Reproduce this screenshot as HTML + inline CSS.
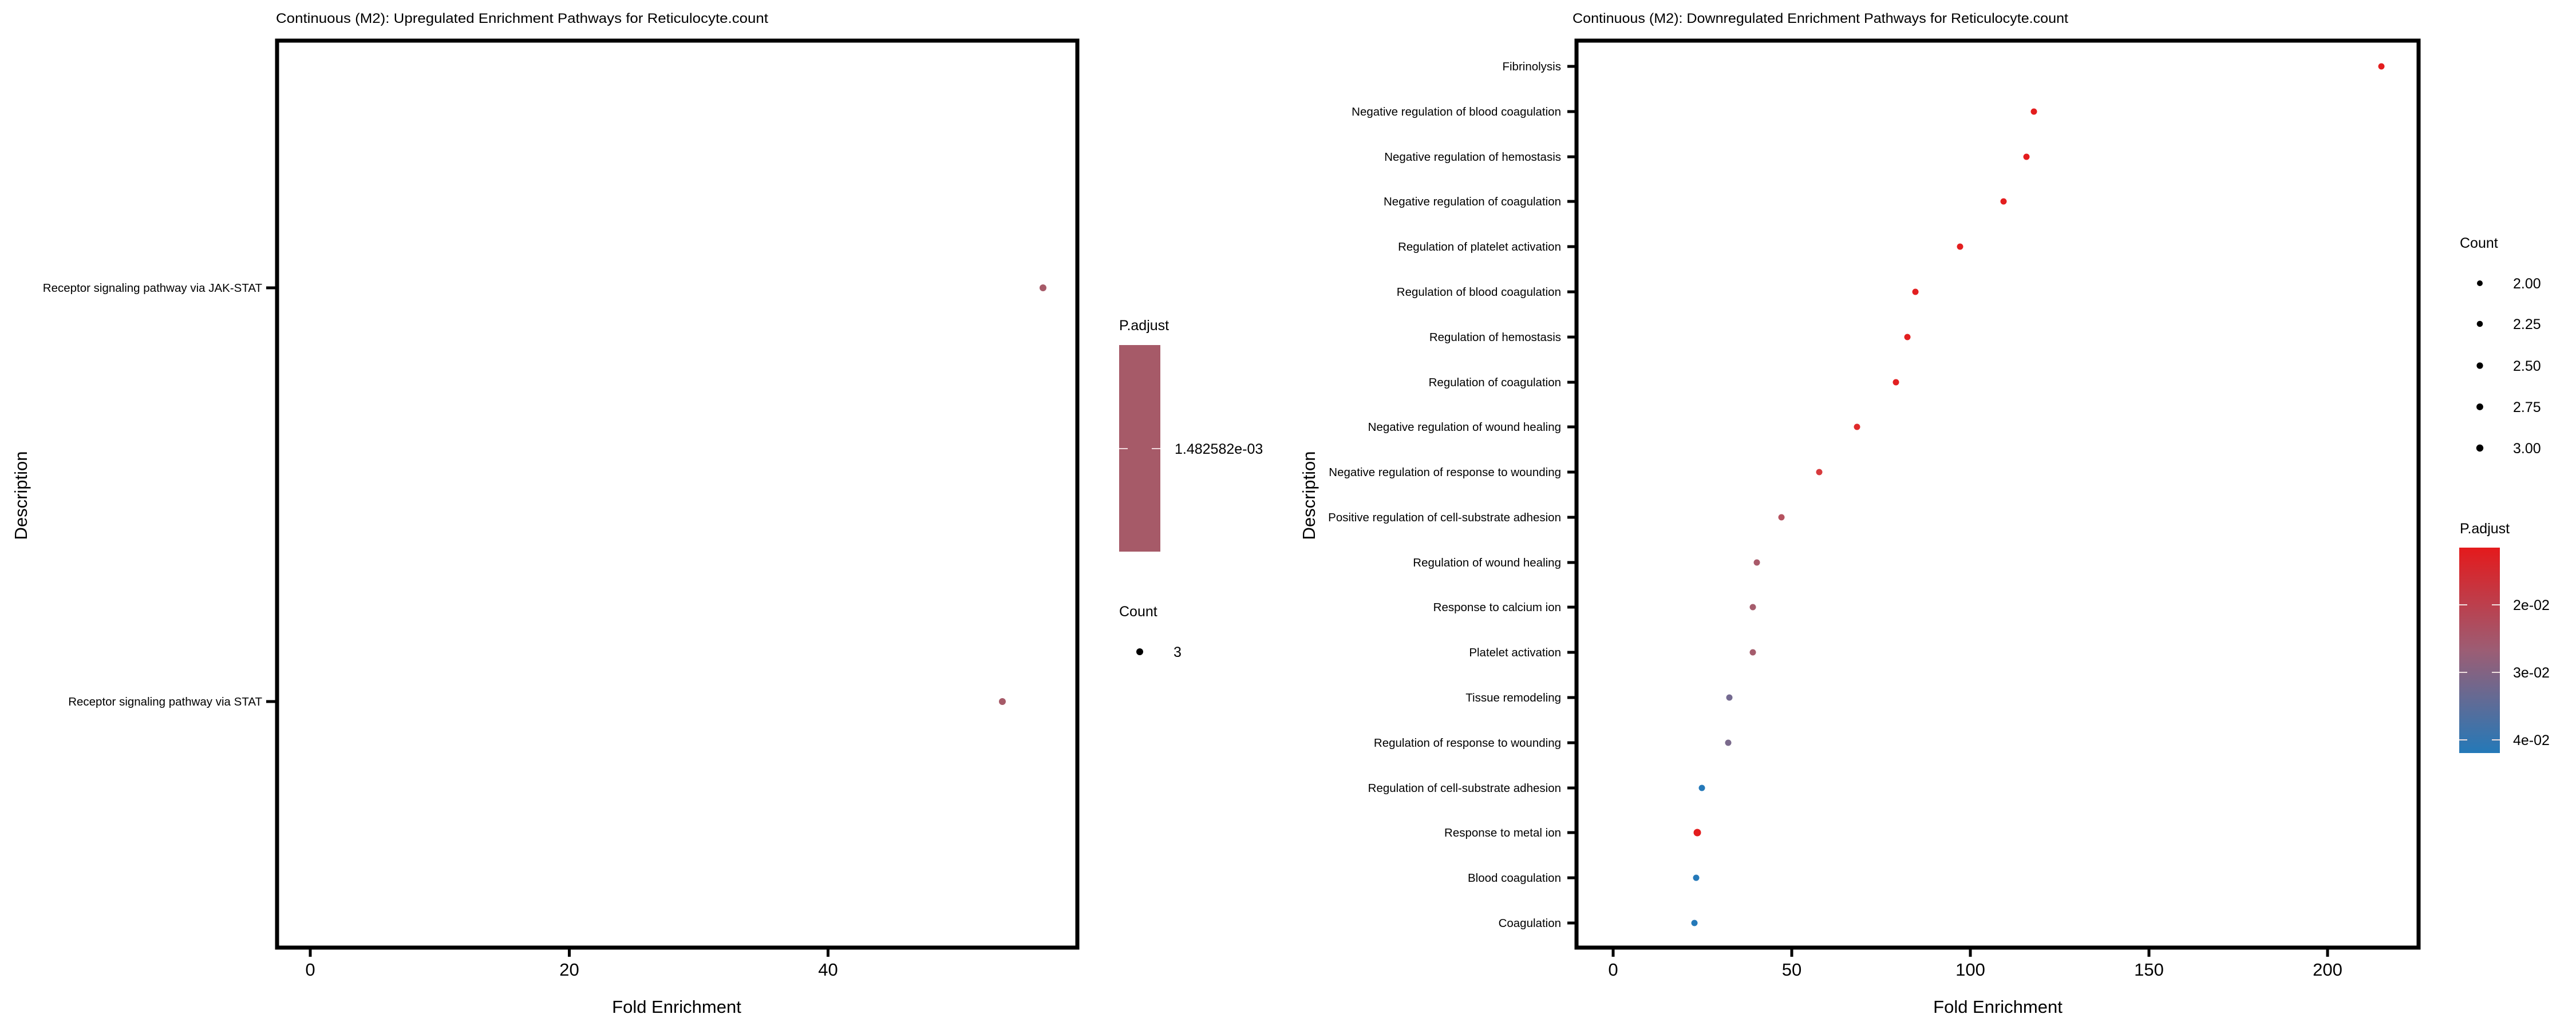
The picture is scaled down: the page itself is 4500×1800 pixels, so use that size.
<!DOCTYPE html>
<html><head><meta charset="utf-8"><style>
html,body{margin:0;padding:0;background:#fff;}
svg{display:block;}
text{font-family:"Liberation Sans",sans-serif;fill:#000;}
.yl{font-size:20.5px;text-anchor:end;}
.xl{font-size:31px;text-anchor:middle;}
.lg{font-size:25px;}
</style></head><body>
<svg width="4500" height="1800" viewBox="0 0 4500 1800" xmlns="http://www.w3.org/2000/svg">
<defs>
<linearGradient id="g" x1="0" y1="0" x2="0" y2="1">
<stop offset="0" stop-color="#e41a1c"/>
<stop offset="0.5" stop-color="#9c5d74"/>
<stop offset="1" stop-color="#2479b8"/>
</linearGradient>
</defs>
<!-- LEFT PANEL -->
<text x="482" y="40" font-size="24" textLength="860" lengthAdjust="spacingAndGlyphs">Continuous (M2): Upregulated Enrichment Pathways for Reticulocyte.count</text>
<rect x="484" y="71" width="1398" height="1585" fill="none" stroke="#000" stroke-width="7"/>
<g stroke="#000" stroke-width="5">
<line x1="465" y1="503" x2="482" y2="503"/><line x1="465" y1="1226" x2="482" y2="1226"/>
<line x1="542" y1="1659" x2="542" y2="1672"/><line x1="994.5" y1="1659" x2="994.5" y2="1672"/><line x1="1446.5" y1="1659" x2="1446.5" y2="1672"/>
</g>
<text class="yl" x="458" y="510">Receptor signaling pathway via JAK-STAT</text>
<text class="yl" x="458" y="1233">Receptor signaling pathway via STAT</text>
<text class="xl" x="542" y="1705">0</text><text class="xl" x="994.5" y="1705">20</text><text class="xl" x="1446.5" y="1705">40</text>
<text class="xl" x="1182" y="1770">Fold Enrichment</text>
<text class="xl" transform="translate(47,866) rotate(-90)">Description</text>
<circle cx="1822" cy="503" r="6" fill="#a65a68"/>
<circle cx="1751" cy="1226" r="6" fill="#a65a68"/>
<text class="lg" x="1955" y="577">P.adjust</text>
<rect x="1955" y="603" width="72" height="361" fill="#a65a68"/>
<line x1="1955" y1="784" x2="1970" y2="784" stroke="#f0d8dc" stroke-width="2"/><line x1="2012" y1="784" x2="2027" y2="784" stroke="#f0d8dc" stroke-width="2"/>
<text class="lg" x="2052" y="793">1.482582e-03</text>
<text class="lg" x="1955" y="1077">Count</text>
<circle cx="1991" cy="1139" r="6" fill="#000"/>
<text class="lg" x="2050" y="1148">3</text>

<!-- RIGHT PANEL -->
<text x="2747" y="40" font-size="24" textLength="866" lengthAdjust="spacingAndGlyphs">Continuous (M2): Downregulated Enrichment Pathways for Reticulocyte.count</text>
<rect x="2754" y="71" width="1471" height="1585" fill="none" stroke="#000" stroke-width="7"/>
<g stroke="#000" stroke-width="5">
<line x1="2818" y1="1659" x2="2818" y2="1672"/><line x1="3130" y1="1659" x2="3130" y2="1672"/><line x1="3442" y1="1659" x2="3442" y2="1672"/><line x1="3754" y1="1659" x2="3754" y2="1672"/><line x1="4066" y1="1659" x2="4066" y2="1672"/>
</g>
<text class="xl" x="2818" y="1705">0</text><text class="xl" x="3130" y="1705">50</text><text class="xl" x="3442" y="1705">100</text><text class="xl" x="3754" y="1705">150</text><text class="xl" x="4066" y="1705">200</text>
<text class="xl" x="3490" y="1770">Fold Enrichment</text>
<text class="xl" transform="translate(2297,866) rotate(-90)">Description</text>
<text class="lg" x="4297" y="433">Count</text>
<g fill="#000"><circle cx="4332" cy="495" r="5"/><circle cx="4332" cy="566" r="5.3"/><circle cx="4332" cy="639" r="5.6"/><circle cx="4332" cy="711" r="5.9"/><circle cx="4332" cy="783" r="6.2"/></g>
<text class="lg" x="4390" y="504">2.00</text><text class="lg" x="4390" y="575">2.25</text><text class="lg" x="4390" y="648">2.50</text><text class="lg" x="4390" y="720">2.75</text><text class="lg" x="4390" y="792">3.00</text>
<text class="lg" x="4297" y="932">P.adjust</text>
<rect x="4296" y="957" width="71" height="359" fill="url(#g)"/>
<g stroke="#f0e0e0" stroke-width="2">
<line x1="4296" y1="1057" x2="4310" y2="1057"/><line x1="4353" y1="1057" x2="4367" y2="1057"/>
<line x1="4296" y1="1175" x2="4310" y2="1175"/><line x1="4353" y1="1175" x2="4367" y2="1175"/>
<line x1="4296" y1="1293" x2="4310" y2="1293"/><line x1="4353" y1="1293" x2="4367" y2="1293"/>
</g>
<text class="lg" x="4390" y="1066">2e-02</text><text class="lg" x="4390" y="1184">3e-02</text><text class="lg" x="4390" y="1302">4e-02</text>

<g stroke="#000" stroke-width="5">
<line x1="2738" y1="116" x2="2751" y2="116"/><line x1="2738" y1="195" x2="2751" y2="195"/><line x1="2738" y1="274" x2="2751" y2="274"/><line x1="2738" y1="352" x2="2751" y2="352"/><line x1="2738" y1="431" x2="2751" y2="431"/><line x1="2738" y1="510" x2="2751" y2="510"/><line x1="2738" y1="589" x2="2751" y2="589"/><line x1="2738" y1="668" x2="2751" y2="668"/><line x1="2738" y1="746" x2="2751" y2="746"/><line x1="2738" y1="825" x2="2751" y2="825"/><line x1="2738" y1="904" x2="2751" y2="904"/><line x1="2738" y1="983" x2="2751" y2="983"/><line x1="2738" y1="1061" x2="2751" y2="1061"/><line x1="2738" y1="1140" x2="2751" y2="1140"/><line x1="2738" y1="1219" x2="2751" y2="1219"/><line x1="2738" y1="1298" x2="2751" y2="1298"/><line x1="2738" y1="1377" x2="2751" y2="1377"/><line x1="2738" y1="1455" x2="2751" y2="1455"/><line x1="2738" y1="1534" x2="2751" y2="1534"/><line x1="2738" y1="1613" x2="2751" y2="1613"/>
</g>
<text class="yl" x="2727" y="123">Fibrinolysis</text>
<text class="yl" x="2727" y="202">Negative regulation of blood coagulation</text>
<text class="yl" x="2727" y="281">Negative regulation of hemostasis</text>
<text class="yl" x="2727" y="359">Negative regulation of coagulation</text>
<text class="yl" x="2727" y="438">Regulation of platelet activation</text>
<text class="yl" x="2727" y="517">Regulation of blood coagulation</text>
<text class="yl" x="2727" y="596">Regulation of hemostasis</text>
<text class="yl" x="2727" y="675">Regulation of coagulation</text>
<text class="yl" x="2727" y="753">Negative regulation of wound healing</text>
<text class="yl" x="2727" y="832">Negative regulation of response to wounding</text>
<text class="yl" x="2727" y="911">Positive regulation of cell-substrate adhesion</text>
<text class="yl" x="2727" y="990">Regulation of wound healing</text>
<text class="yl" x="2727" y="1068">Response to calcium ion</text>
<text class="yl" x="2727" y="1147">Platelet activation</text>
<text class="yl" x="2727" y="1226">Tissue remodeling</text>
<text class="yl" x="2727" y="1305">Regulation of response to wounding</text>
<text class="yl" x="2727" y="1384">Regulation of cell-substrate adhesion</text>
<text class="yl" x="2727" y="1462">Response to metal ion</text>
<text class="yl" x="2727" y="1541">Blood coagulation</text>
<text class="yl" x="2727" y="1620">Coagulation</text>
<circle cx="4160" cy="116" r="5.5" fill="#e31d1e"/>
<circle cx="3553" cy="195" r="5.5" fill="#e31d1e"/>
<circle cx="3540" cy="274" r="5.5" fill="#e31d1e"/>
<circle cx="3500" cy="352" r="5.5" fill="#e31e1f"/>
<circle cx="3424" cy="431" r="5.5" fill="#e31e1f"/>
<circle cx="3346" cy="510" r="5.5" fill="#e21f20"/>
<circle cx="3332" cy="589" r="5.5" fill="#e21f20"/>
<circle cx="3312" cy="668" r="5.5" fill="#e22021"/>
<circle cx="3244" cy="746" r="5.5" fill="#df2a2b"/>
<circle cx="3178" cy="825" r="5.5" fill="#d73a3d"/>
<circle cx="3112" cy="904" r="5.5" fill="#b5525f"/>
<circle cx="3069" cy="983" r="5.5" fill="#a95a6a"/>
<circle cx="3062" cy="1061" r="5.5" fill="#a55c6c"/>
<circle cx="3062" cy="1140" r="5.5" fill="#a55c6c"/>
<circle cx="3021" cy="1219" r="5.5" fill="#746a90"/>
<circle cx="3019" cy="1298" r="5.5" fill="#7a6a8c"/>
<circle cx="2973" cy="1377" r="5.5" fill="#2579b9"/>
<circle cx="2965" cy="1455" r="6.5" fill="#e31d1e"/>
<circle cx="2963" cy="1534" r="5.5" fill="#2579b9"/>
<circle cx="2960" cy="1613" r="5.5" fill="#2579b9"/>
</svg>
</body></html>
